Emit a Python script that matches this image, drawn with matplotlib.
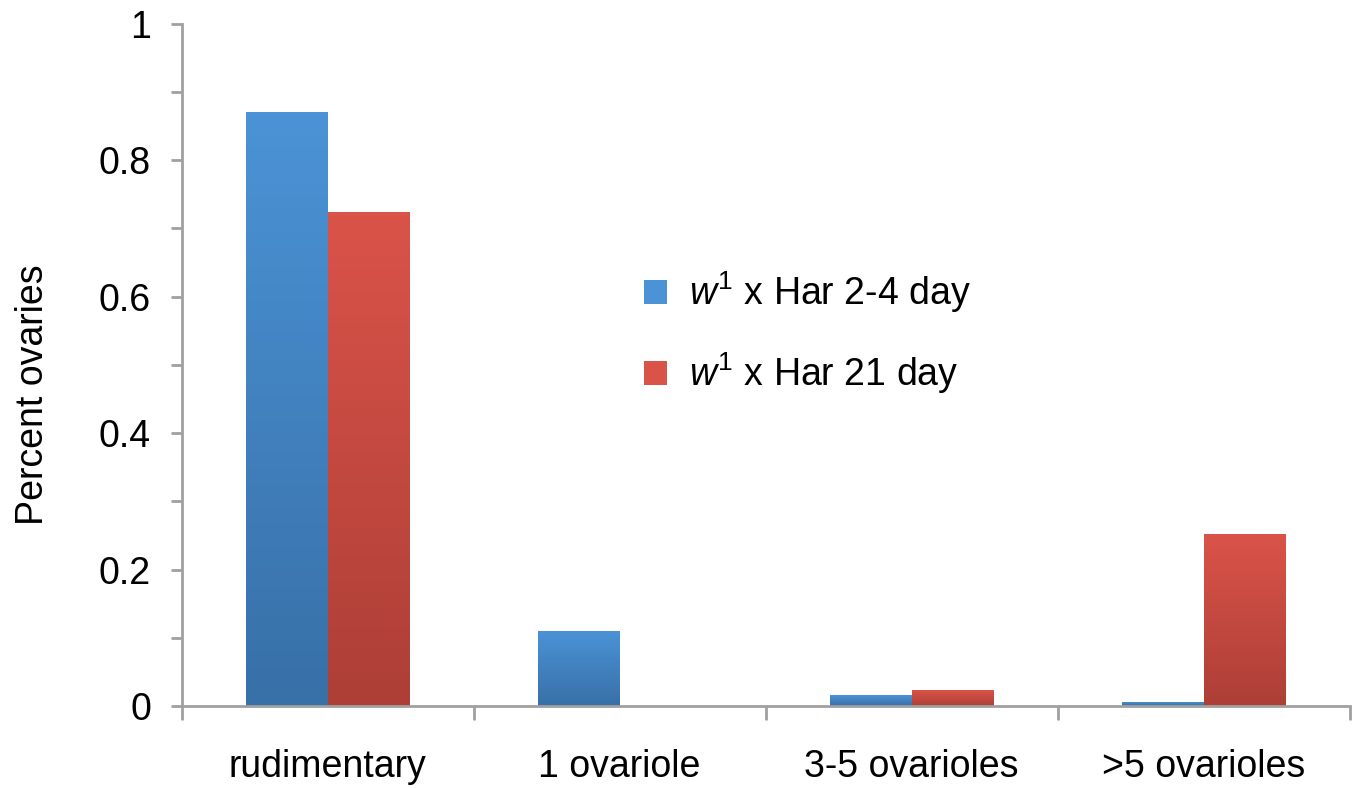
import numpy as np
import matplotlib.pyplot as plt
from matplotlib.colors import LinearSegmentedColormap
from matplotlib.patches import Patch

categories = ['rudimentary', '1 ovariole', '3-5 ovarioles', '>5 ovarioles']
series_names = ['$\\mathit{w}^{\\mathit{1}}$ x Har 2-4 day', '$\\mathit{w}^{\\mathit{1}}$ x Har 21 day']
young = [0.870, 0.110, 0.016, 0.006]
old = [0.724, 0.0, 0.023, 0.252]
yticks = [0, 0.2, 0.4, 0.6, 0.8, 1]
ytick_labels = ['0', '0.2', '0.4', '0.6', '0.8', '1']

plt.rcParams['font.family'] = ['Liberation Sans', 'DejaVu Sans']
plt.rcParams['mathtext.fontset'] = 'custom'
plt.rcParams['mathtext.it'] = 'Liberation Sans:italic'
plt.rcParams['mathtext.rm'] = 'Liberation Sans'

fig = plt.figure(figsize=(13.55, 7.88), dpi=100)
ax = fig.add_axes([0.134, 0.104, 0.862, 0.866])

grey = '#a0a0a0'
blue_top, blue_bot = '#4b93d6', '#3870a8'
red_top, red_bot = '#da5349', '#ad3f37'
bw = 0.28
fs = 27
x = np.arange(len(categories))


def grad_bars(xs, vals, top, bot):
    cmap = LinearSegmentedColormap.from_list('g', [bot, top])
    bars = ax.bar(xs, vals, bw, color='none', edgecolor='none', zorder=2)
    for b in bars:
        h = b.get_height()
        if h <= 0:
            continue
        x0 = b.get_x()
        im = ax.imshow(np.linspace(0, 1, 100).reshape(-1, 1), cmap=cmap,
                       extent=[x0, x0 + bw, 0, h], origin='lower',
                       aspect='auto', zorder=2)
        im.set_clip_path(b)
    return bars


grad_bars(x - bw / 2, young, blue_top, blue_bot)
grad_bars(x + bw / 2, old, red_top, red_bot)

ax.set_xlim(-0.5, len(categories) - 0.5)
ax.set_ylim(0, 1)

ax.set_yticks(yticks)
ax.set_yticklabels(ytick_labels)
ax.set_yticks(np.arange(0.1, 1.0, 0.2), minor=True)
ax.set_xticks(x)
ax.set_xticklabels(categories)
ax.tick_params(axis='x', which='major', length=0, pad=31, labelsize=fs)
ax.set_xticks(np.arange(-0.5, len(categories), 1.0), minor=True)
ax.tick_params(axis='x', which='minor', length=10, width=2, color=grey, direction='out')
ax.tick_params(axis='y', which='both', length=8, width=2, color=grey, direction='out', labelsize=fs, pad=14)

for s in ['top', 'right']:
    ax.spines[s].set_visible(False)
for s in ['left', 'bottom']:
    ax.spines[s].set_color(grey)
    ax.spines[s].set_linewidth(2)

ax.set_ylabel('Percent ovaries', fontsize=fs)
ax.yaxis.set_label_coords(-0.112, 0.456)

handles = [Patch(facecolor=blue_top, edgecolor='none'), Patch(facecolor=red_top, edgecolor='none')]
ax.legend(handles, series_names, loc='center left', bbox_to_anchor=(0.396, 0.547),
          frameon=False, fontsize=fs, handlelength=0.6, handleheight=0.6,
          handletextpad=0.6, labelspacing=0.95, borderpad=0, borderaxespad=0)

fig.savefig('out.png', dpi=100)
